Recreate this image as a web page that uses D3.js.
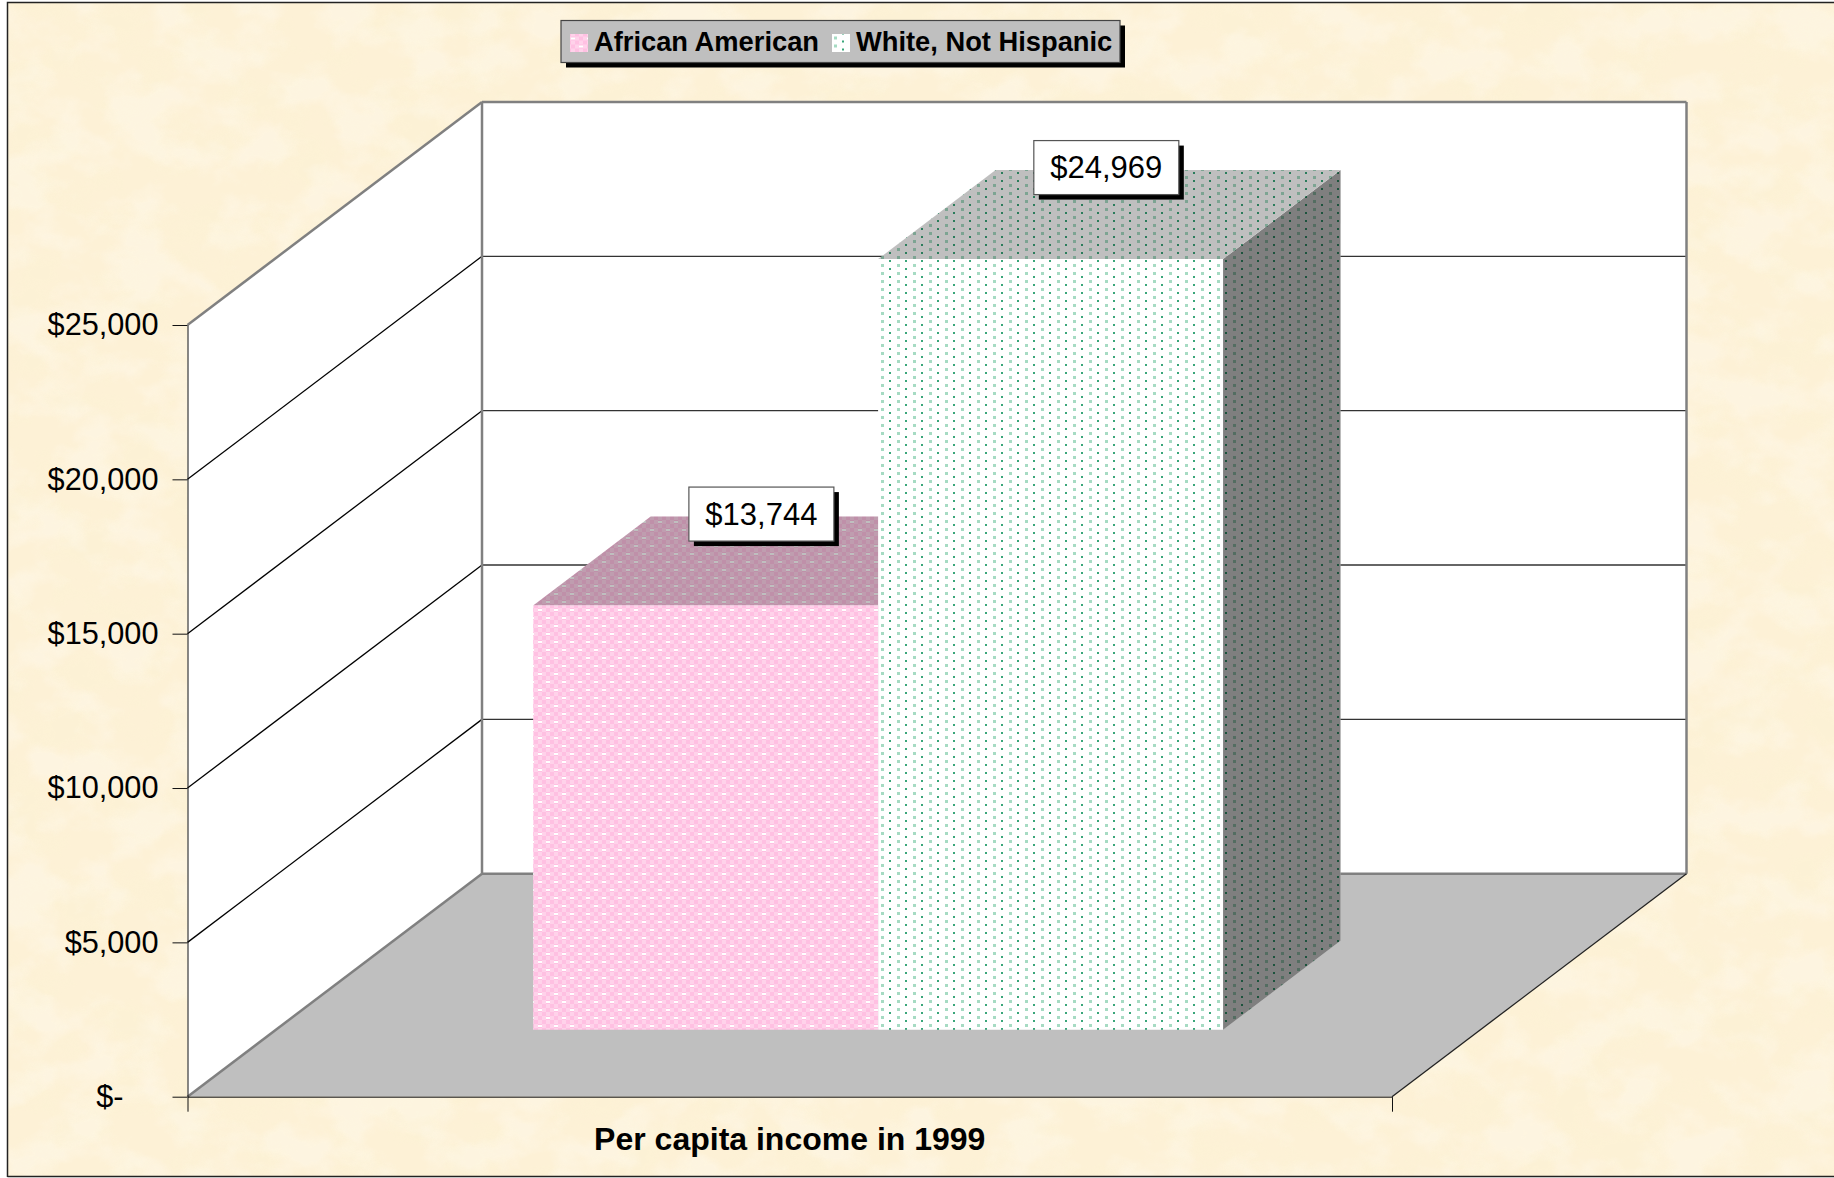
<!DOCTYPE html>
<html>
<head>
<meta charset="utf-8">
<script src="https://cdn.jsdelivr.net/npm/d3@7/dist/d3.min.js"></script>
<style>
    html, body { margin: 0; padding: 0; background: #fff; }
    svg { display: block; }
    text { font-family: "Liberation Sans", Arial, sans-serif; fill: #000; }
</style>
</head>
<body>
<svg></svg>
<script>
const categories = ['Per capita income in 1999']
const seriesNames = ['African American', 'White, Not Hispanic']
const seriesValues = [13744, 24969]
const tickValues = [0, 5000, 10000, 15000, 20000, 25000]
const gridValues = [5000, 10000, 15000, 20000]

const
    svgWidth = 1834,
    svgHeight = 1178,
    // front plane of the 3d box
    FRONT_LEFT = 187.5,
    FRONT_RIGHT = 1392,
    FRONT_BOTTOM = 1096.7,
    FRONT_TOP = 325,
    // how far the back wall is shifted from the front plane
    DEPTH_X = 294.5,
    DEPTH_Y = -223,
    // bars stand in this slice of the depth
    BAR_NEAR = 0.3,
    BAR_FAR = 0.699

let svg = d3.select('svg')
    .attr('width', svgWidth)
    .attr('height', svgHeight)

let y = d3.scaleLinear().domain([0, 25000]).range([FRONT_BOTTOM, FRONT_TOP])
let x_cat = d3.scaleBand().domain(categories).range([FRONT_LEFT, FRONT_RIGHT])
let x_bar = d3.scaleBand().domain(seriesNames).range([FRONT_LEFT, FRONT_RIGHT])
    .paddingInner(0).paddingOuter(0.746)
let depth_x = d3.scaleLinear().domain([0, 1]).range([0, DEPTH_X])
let depth_y = d3.scaleLinear().domain([0, 1]).range([0, DEPTH_Y])

// point in the box: x on the front plane, value, depth 0..1
const pt = (px, v, d) => [px + depth_x(d), y(v) + depth_y(d)]
const poly = pts => pts.map(p => p.join(',')).join(' ')

let defs = svg.append('defs')

// mottled paper, one darker yellow layer and one pale layer
function paperFilter(id, seed, color, gain, cut) {
    let f = defs.append('filter').attr('id', id)
        .attr('x', 0).attr('y', 0).attr('width', '100%').attr('height', '100%')
    f.append('feTurbulence')
        .attr('type', 'fractalNoise')
        .attr('baseFrequency', '0.018 0.024')
        .attr('numOctaves', 4)
        .attr('seed', seed)
    f.append('feColorMatrix')
        .attr('type', 'matrix')
        .attr('values', `0 0 0 0 ${color[0]}  0 0 0 0 ${color[1]}  0 0 0 0 ${color[2]}  ${gain} 0 0 0 ${cut}`)
}
paperFilter('paper-dark', 7, [0.97, 0.9, 0.66], 4, -1.7)
paperFilter('paper-light', 21, [1, 0.97, 0.9], 4, -1.7)

// pink bar fill, 4px checks with white spots
let pink = defs.append('pattern').attr('id', 'pink')
    .attr('patternUnits', 'userSpaceOnUse')
    .attr('width', 16).attr('height', 16)
    .attr('patternTransform', 'translate(534,604)')
pink.append('rect').attr('width', 16).attr('height', 16).attr('fill', '#ffd2ea')
d3.range(0, 16, 4).forEach(i => d3.range(0, 16, 4).forEach(j => {
    if ((i + j) % 8 == 0) {
        pink.append('rect').attr('x', i).attr('y', j).attr('width', 4).attr('height', 4).attr('fill', '#ffc0e2')
    }
}))
const pinkSpots = [[6, 6], [14, 14]]
pinkSpots.forEach(s => {
    pink.append('rect').attr('x', s[0] - 2).attr('y', s[1] - 1).attr('width', 4).attr('height', 2).attr('fill', '#fff')
})

// white bar fill
let dots = defs.append('pattern').attr('id', 'dots')
    .attr('patternUnits', 'userSpaceOnUse')
    .attr('width', 16).attr('height', 8)
    .attr('patternTransform', 'translate(881,264)')
dots.append('rect').attr('width', 16).attr('height', 8).attr('fill', '#fff')
dots.append('rect').attr('x', 0).attr('y', 0).attr('width', 3).attr('height', 3).attr('fill', '#a6dbc3')
dots.append('rect').attr('x', 8).attr('y', 4).attr('width', 2).attr('height', 2).attr('fill', '#3aa67a')

const fills = ['url(#pink)', 'url(#dots)']

// background
svg.append('rect').attr('x', 7).attr('y', 2).attr('width', svgWidth).attr('height', 1175).attr('fill', '#fdf1d6')
svg.append('rect').attr('x', 7).attr('y', 2).attr('width', svgWidth).attr('height', 1175)
    .attr('filter', 'url(#paper-dark)').attr('opacity', 0.3)
svg.append('rect').attr('x', 7).attr('y', 2).attr('width', svgWidth).attr('height', 1175)
    .attr('filter', 'url(#paper-light)').attr('opacity', 0.35)
svg.append('path')
    .attr('d', `M7.5,1177V2.5H${svgWidth}M7.5,1176.5H${svgWidth}`)
    .attr('fill', 'none').attr('stroke', '#222').attr('stroke-width', 1.5)

// walls and floor
svg.append('polygon')
    .attr('points', poly([pt(FRONT_LEFT, 0, 0), pt(FRONT_LEFT, 25000, 0), pt(FRONT_LEFT, 25000, 1), pt(FRONT_LEFT, 0, 1)]))
    .attr('fill', '#fff')
svg.append('polygon')
    .attr('points', poly([pt(FRONT_LEFT, 0, 1), pt(FRONT_LEFT, 25000, 1), pt(FRONT_RIGHT, 25000, 1), pt(FRONT_RIGHT, 0, 1)]))
    .attr('fill', '#fff')
svg.append('polygon')
    .attr('points', poly([pt(FRONT_LEFT, 0, 0), pt(FRONT_LEFT, 0, 1), pt(FRONT_RIGHT, 0, 1), pt(FRONT_RIGHT, 0, 0)]))
    .attr('fill', '#bfbfbf')

// gridlines, side wall then back wall
svg.selectAll('.grid-side').data(gridValues).enter().append('line')
    .attr('class', 'grid-side')
    .attr('x1', pt(FRONT_LEFT, 0, 0)[0]).attr('x2', pt(FRONT_LEFT, 0, 1)[0])
    .attr('y1', d => pt(FRONT_LEFT, d, 0)[1]).attr('y2', d => pt(FRONT_LEFT, d, 1)[1])
    .attr('stroke', '#000').attr('stroke-width', 1.3)
svg.selectAll('.grid-back').data(gridValues).enter().append('line')
    .attr('class', 'grid-back')
    .attr('x1', pt(FRONT_LEFT, 0, 1)[0]).attr('x2', pt(FRONT_RIGHT, 0, 1)[0])
    .attr('y1', d => pt(FRONT_LEFT, d, 1)[1]).attr('y2', d => pt(FRONT_LEFT, d, 1)[1])
    .attr('stroke', '#333').attr('stroke-width', 1.3)

// box outline, the grey edges
const edges = [
    [pt(FRONT_LEFT, 25000, 0), pt(FRONT_LEFT, 25000, 1)],
    [pt(FRONT_LEFT, 25000, 1), pt(FRONT_RIGHT, 25000, 1)],
    [pt(FRONT_RIGHT, 25000, 1), pt(FRONT_RIGHT, 0, 1)],
    [pt(FRONT_LEFT, 25000, 1), pt(FRONT_LEFT, 0, 1)],
    [pt(FRONT_LEFT, 0, 1), pt(FRONT_RIGHT, 0, 1)],
    [pt(FRONT_LEFT, 0, 0), pt(FRONT_LEFT, 0, 1)]
]
svg.selectAll('.edge').data(edges).enter().append('line')
    .attr('class', 'edge')
    .attr('x1', d => d[0][0]).attr('y1', d => d[0][1])
    .attr('x2', d => d[1][0]).attr('y2', d => d[1][1])
    .attr('stroke', '#808080').attr('stroke-width', 2.5)
svg.append('line')
    .attr('x1', pt(FRONT_RIGHT, 0, 0)[0]).attr('y1', pt(FRONT_RIGHT, 0, 0)[1])
    .attr('x2', pt(FRONT_RIGHT, 0, 1)[0]).attr('y2', pt(FRONT_RIGHT, 0, 1)[1])
    .attr('stroke', '#222').attr('stroke-width', 1.3)

// bars: top and side get a black veil over the same pattern
let bars = svg.selectAll('.bar').data(seriesValues).enter().append('g').attr('class', 'bar')
const barLeft = i => x_bar(seriesNames[i])
const barRight = i => x_bar(seriesNames[i]) + x_bar.bandwidth()

function face(sel, pts, i, shade) {
    sel.append('polygon').attr('points', poly(pts)).attr('fill', fills[i])
    if (shade > 0) {
        sel.append('polygon').attr('points', poly(pts)).attr('fill', '#000').attr('opacity', shade)
    }
}

bars.each(function(d, i) {
    let g = d3.select(this)
    const l = barLeft(i), r = barRight(i)
    face(g, [pt(r, 0, BAR_NEAR), pt(r, d, BAR_NEAR), pt(r, d, BAR_FAR), pt(r, 0, BAR_FAR)], i, 0.5)
    face(g, [pt(l, d, BAR_NEAR), pt(l, d, BAR_FAR), pt(r, d, BAR_FAR), pt(r, d, BAR_NEAR)], i, 0.25)
    face(g, [pt(l, 0, BAR_NEAR), pt(l, d, BAR_NEAR), pt(r, d, BAR_NEAR), pt(r, 0, BAR_NEAR)], i, 0)
})

// axes
let y_axis = d3.axisLeft(y)
    .tickValues(tickValues)
    .tickSizeInner(15)
    .tickSizeOuter(0)
    .tickPadding(14)
    .tickFormat(d => d == 0 ? '$-' : d3.format('$,')(d))

let y_g = svg.append('g')
    .attr('transform', `translate(${FRONT_LEFT}, 0)`)
    .call(y_axis)
y_g.selectAll('text').style('font-size', '30.7px').attr('dx', d => d == 0 ? -35 : 0)
y_g.selectAll('line, path').attr('stroke', '#111')

let x_axis = d3.axisBottom(x_cat)
    .tickSizeInner(0)
    .tickSizeOuter(15)
    .tickPadding(31)

let x_g = svg.append('g')
    .attr('transform', `translate(0, ${FRONT_BOTTOM})`)
    .call(x_axis)
x_g.selectAll('text').style('font-size', '32px').style('font-weight', 'bold')
x_g.selectAll('line, path').attr('stroke', '#111')

// value labels sit over the middle of the bar top, on its back edge
let labels = svg.selectAll('.value').data(seriesValues).enter().append('g')
    .attr('class', 'value')
    .attr('transform', (d, i) => {
        const p = pt((barLeft(i) + barRight(i)) / 2, d, (BAR_NEAR + BAR_FAR) / 2)
        const back = pt(0, d, BAR_FAR)
        return `translate(${p[0] - 3}, ${back[1] - 2.5})`
    })
labels.append('rect').attr('x', -72.5 + 5).attr('y', -27 + 5).attr('width', 145).attr('height', 54).attr('fill', '#000')
labels.append('rect').attr('x', -72.5).attr('y', -27).attr('width', 145).attr('height', 54)
    .attr('fill', '#fff').attr('stroke', '#555').attr('stroke-width', 1.2)
labels.append('text')
    .attr('text-anchor', 'middle')
    .attr('y', 10.5)
    .style('font-size', '31px')
    .text(d => d3.format('$,')(d))

// legend
let legend = svg.append('g').attr('transform', 'translate(561, 20.5)')
legend.append('rect').attr('x', 5).attr('y', 5).attr('width', 559).attr('height', 42).attr('fill', '#000')
legend.append('rect').attr('width', 559).attr('height', 42)
    .attr('fill', '#bfbfbf').attr('stroke', '#444').attr('stroke-width', 1.2)

const legendSwatchX = [9, 271]
const legendTextX = [33, 295]
let items = legend.selectAll('.item').data(seriesNames).enter().append('g').attr('class', 'item')
items.append('rect')
    .attr('x', (d, i) => legendSwatchX[i]).attr('y', 13.5)
    .attr('width', 18).attr('height', 18)
    .attr('fill', (d, i) => fills[i])
items.append('text')
    .attr('x', (d, i) => legendTextX[i]).attr('y', 30)
    .style('font-size', '27.3px').style('font-weight', 'bold')
    .text(d => d)
</script>
</body>
</html>
